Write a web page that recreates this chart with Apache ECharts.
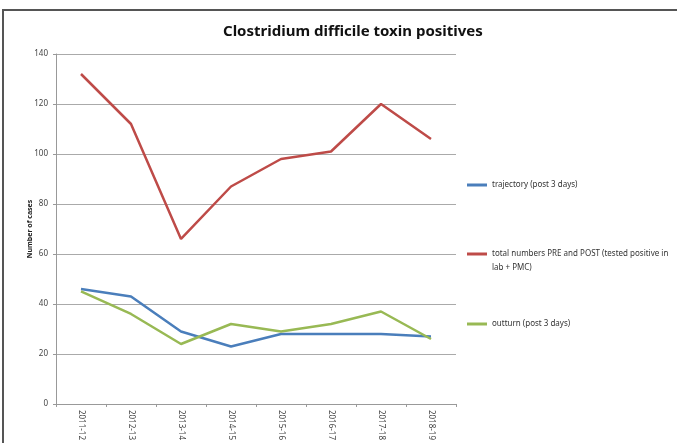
<!DOCTYPE html>
<html>
<head>
<meta charset="utf-8">
<script src="https://cdn.jsdelivr.net/npm/echarts@6/dist/echarts.min.js"></script>
<style>
  html, body { margin: 0; padding: 0; background: #fff; }
  #chart { width: 677px; height: 443px; }
</style>
</head>
<body>
<div id="chart"></div>
<script>
// data
let years = ["2011-12", "2012-13", "2013-14", "2014-15", "2015-16", "2016-17", "2017-18", "2018-19"];
let trajectory = [46, 43, 29, 23, 28, 28, 28, 27];
let totalNumbers = [132, 112, 66, 87, 98, 101, 120, 106];
let outturn = [45, 36, 24, 32, 29, 32, 37, 26];

let nameTraj = "trajectory (post 3 days)";
let nameTotal = "total numbers PRE and POST (tested positive in lab + PMC)";
let nameOut = "outturn (post 3 days)";

let myChart = echarts.init(document.getElementById("chart"));

let legendText = {
  fontFamily: "Noto Sans",
  fontSize: 8,
  color: "#333",
};

let option = {
  animation: false,
  color: ["#4a7ebb", "#be4b48", "#98b954"],
  title: {
    text: "Clostridium difficile toxin positives",
    left: 218,
    top: 19,
    textStyle: { fontFamily: "Noto Sans", fontWeight: "bold", fontSize: 15, color: "#111" },
  },
  graphic: [
    {
      type: "rect",
      shape: { x: 3, y: 10, width: 720, height: 480 },
      style: { fill: "none", stroke: "#555", lineWidth: 2 },
      silent: true,
    },
    {
      type: "text",
      left: 492,
      top: 264,
      style: { text: "lab + PMC)", font: "8px 'Noto Sans'", fill: "#333" },
    },
  ],
  legend: [
    {
      data: [nameTraj],
      left: 462,
      top: 176,
      itemWidth: 20,
      itemHeight: 3,
      icon: "rect",
      textStyle: legendText,
    },
    {
      data: [nameTotal],
      left: 462,
      top: 245,
      itemWidth: 20,
      itemHeight: 3,
      icon: "rect",
      textStyle: legendText,
      formatter: () => "total numbers PRE and POST (tested positive in",
    },
    {
      data: [nameOut],
      left: 462,
      top: 315,
      itemWidth: 20,
      itemHeight: 3,
      icon: "rect",
      textStyle: legendText,
    },
  ],
  grid: {
    left: 56,
    right: 221,
    top: 54,
    bottom: 39,
  },
  xAxis: {
    type: "category",
    data: years,
    boundaryGap: true,
    axisLine: { lineStyle: { color: "#999" } },
    axisTick: { show: true, length: 3, lineStyle: { color: "#999" } },
    axisLabel: {
      rotate: -90,
      margin: 6,
      fontFamily: "Noto Sans",
      fontSize: 8,
      color: "#444",
    },
  },
  yAxis: {
    type: "value",
    min: 0,
    max: 140,
    interval: 20,
    name: "Number of cases",
    nameLocation: "middle",
    nameGap: 23,
    nameMoveOverlap: false,
    nameTextStyle: { fontFamily: "Noto Sans", fontWeight: "bold", fontSize: 7, color: "#222" },
    axisLine: { show: true, lineStyle: { color: "#999" } },
    axisTick: { show: true, length: 3, lineStyle: { color: "#999" } },
    axisLabel: { fontFamily: "Noto Sans", fontSize: 8, color: "#444", margin: 8 },
    splitLine: { lineStyle: { color: "#aaa", width: 1 } },
  },
  series: [
    {
      name: nameTraj,
      type: "line",
      data: trajectory,
      showSymbol: false,
      lineStyle: { width: 2.5 },
    },
    {
      name: nameTotal,
      type: "line",
      data: totalNumbers,
      showSymbol: false,
      lineStyle: { width: 2.5 },
    },
    {
      name: nameOut,
      type: "line",
      data: outturn,
      showSymbol: false,
      lineStyle: { width: 2.5 },
    },
  ],
};

myChart.setOption(option);
</script>
</body>
</html>
